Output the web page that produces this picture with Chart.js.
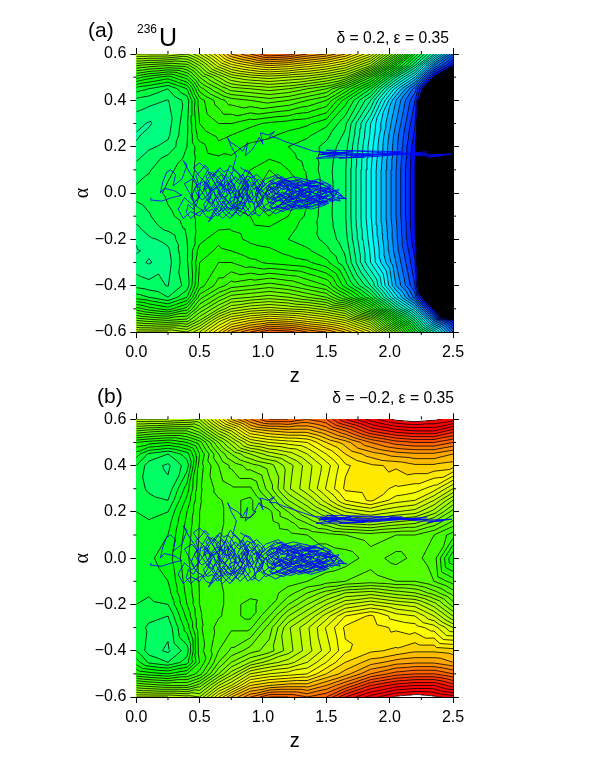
<!DOCTYPE html>
<html>
<head>
<meta charset="utf-8">
<title>Fission trajectories on potential energy surfaces</title>
<script src="https://cdn.jsdelivr.net/npm/chart.js@4/dist/chart.umd.js"></script>
<style>
  html, body { margin: 0; padding: 0; background: #fff; }
  canvas { display: block; }
</style>
</head>
<body>
<canvas id="panelA" width="599" height="388"></canvas>
<canvas id="panelB" width="599" height="365"></canvas>
<script>
// grid of the surfaces, the lower half is the mirror image of the upper half
const zGrid = [0, 0.1, 0.25, 0.4, 0.5, 0.65, 0.75, 0.9, 1.05, 1.2, 1.35, 1.5, 1.65, 1.85, 2.05, 2.2, 2.35, 2.5];
const alphaGrid = [0, 0.1, 0.15, 0.2, 0.25, 0.3, 0.4, 0.45, 0.5, 0.55, 0.6];

// panel (a), values in contour steps, one array per alpha row
const a00 = [-2.7, -2.5, -1.8, -1.3, -0.5, -0.2, -0.3, 0.5, 2.4, 1.2, -0.8, -2.5, -3.9, -8.9, -14, -18, -32, -40];
const a10 = [-3.5, -3.1, -2.2, -1.6, -0.6, -0.2, -0.2, 0, 1, 0, -1.2, -2.6, -3.9, -8.9, -14, -18, -32, -40];
const a15 = [-4.2, -3.5, -2.7, -1.8, -0.6, -0.2, -0.1, -0.3, -0.1, -0.7, -1.4, -2.5, -3.8, -8.7, -13.8, -17.9, -32, -40];
const a20 = [-4.9, -4.2, -3.7, -2, -0.4, 0.8, 0.3, -0.2, -0.5, -1, -1.5, -2.3, -3.6, -8.5, -13.7, -17.7, -31, -40];
const a25 = [-5.1, -4.8, -4.2, -2.1, 0.5, 1.2, 1, 0.4, 0.2, -0.3, -0.8, -1.7, -3.2, -8.2, -13.5, -17.3, -30, -40];
const a30 = [-4.7, -5.1, -4.4, -2.2, 1, 2, 2, 1.3, 0.8, 0.5, 0.2, -0.7, -2.8, -8, -13, -16.9, -30, -40];
const a40 = [-3.3, -3.6, -4.05, -2.6, 1.5, 3.5, 4.5, 5, 5.5, 5, 4, 3, -0.5, -5, -12, -16, -30, -38];
const a45 = [-1.5, -2, -3, -1, 3.5, 6, 7.5, 8, 8.5, 8, 7, 6, 3, -2, -9.5, -14.5, -24, -35];
const a50 = [2.5, 1.5, 0.5, 2.5, 6, 9, 11, 12, 12.5, 12, 11.5, 10.5, 9, 3, -5, -10, -18.5, -30];
const a55 = [7, 6.5, 6, 6.5, 9, 13.5, 15.5, 17, 18, 17.5, 16.5, 15.5, 14, 10, 1, -5, -13, -18];
const a60 = [12, 12, 12, 11, 13, 17, 20, 22, 24, 23.5, 22, 21, 19, 15, 7, -1, -7, -14];

// panel (b)
const b00 = [-1.2, -1.2, -0.5, 1.8, 3.2, 4, 4.4, 4.4, 4.3, 4.3, 4.2, 4.2, 4.4, 5.5, 4.6, 5.3, 4.5, 0];
const b10 = [-1.5, -1.6, -1, 1.5, 3.1, 3.9, 4.4, 4.4, 4.4, 4.6, 5, 5.5, 6, 6.5, 6, 6, 5, 3.5];
const b15 = [-1.7, -1.9, -1.4, 1.3, 3.05, 3.8, 4.3, 4.3, 4.5, 5.5, 7, 8.5, 10, 10.5, 9.5, 9, 7.5, 5.5];
const b20 = [-2, -2.2, -2, 1, 3, 3.8, 4.3, 3.7, 4.7, 7, 9, 11, 13, 14, 13, 12.5, 10.5, 7.5];
const b25 = [-2.2, -2.7, -3, 0.3, 2.9, 3.9, 4.3, 3.7, 6, 9, 11, 13.5, 16, 17.2, 15.5, 15, 13, 10];
const b30 = [-2.5, -3.2, -3.7, -0.5, 2.8, 4.4, 4.8, 4.8, 7.5, 10.8, 12.8, 15.1, 17.2, 17.5, 16.8, 16.5, 15.5, 13];
const b40 = [-2, -3.5, -4.2, -2.5, 2.5, 5, 6.2, 7.5, 8.5, 10.5, 12.5, 14.5, 16.8, 17.8, 18.2, 18.8, 18.8, 18.5];
const b45 = [-0.5, -2.2, -3, -1.5, 2, 6, 8, 10, 11.5, 12.5, 14, 16, 18, 19.5, 20.5, 20.8, 20.8, 20];
const b50 = [2, 1.5, 1, 2, 3.5, 8, 10.5, 14, 15, 15.5, 16, 18, 19.5, 22, 23.5, 24, 24, 23];
const b55 = [7, 6.5, 6, 6, 7.5, 12, 14, 18, 19, 19.5, 19.5, 21, 23, 26, 27.5, 28, 28, 26.5];
const b60 = [12, 12, 12, 11.5, 11, 16, 19, 22, 24, 24, 23, 24, 27, 29.5, 31.3, 31.8, 31.3, 30.5];

// trajectories as [z, alpha]
const tangleLeft = [
  [.12,-.02],[.11,-.03],[.2,-.035],[.28,-.02],[.36,-.01],[.3,.01],[.22,.02],[.19,0],[.21,.05],[.24,.09],[.27,.1],[.31,.08],[.29,.03],
  [.36,.06],[.4,.12],[.37,.14],[.42,.09],[.47,.05],[.5,-.02],[.44,-.05],[.38,-.02],[.33,-.07],[.37,-.11],[.43,-.08],[.5,-.1],[.56,-.05],
  [.6,0],[.55,.05],[.6,.09],[.66,.06],[.7,.01],[.65,-.04],[.6,-.09],[.57,-.125],[.63,-.09],[.7,-.06],[.75,-.02],[.72,.03],[.78,.07],
  [.84,.04],[.88,-.02],[.82,-.06],[.76,-.1],[.7,-.07],[.64,-.02],[.58,.03],[.5,.07],[.45,.11],[.5,.13],[.56,.1],[.62,.04],[.68,-.01],
  [.74,-.05],[.8,-.09],[.85,-.06],[.9,0],[.86,.05],[.8,.09],[.74,.12],[.7,.07],[.64,.1],[.58,.06],[.52,0],[.46,-.04],[.42,0],[.38,.04],
  [.44,.06],[.5,.02],[.56,-.03],[.62,-.07],[.68,-.11],[.74,-.08],[.8,-.03],[.85,.02],[.9,.07],[.95,.03],[1,-.03],[.94,-.07],[.88,-.1],
  [.84,-.06],[.78,-.01],[.72,.04],[.66,.01],[.6,-.05],[.54,-.08],[.48,-.06],[.43,-.02],[.47,.03],[.53,.05],[.59,.01],[.65,.03],[.71,.08],
  [.77,.03],[.83,-.02],[.89,.03],[.84,.08],[.79,.05],[.73,0],[.68,-.04],[.74,-.07],[.81,-.05],[.87,0],[.93,-.05],[.97,.01],[.91,.05]
];
const tangleMid = [
  [.62,.02],[.65,.035],[.63,.06],[.67,.08],[.7,.055],[.69,.02],[.73,.01],[.76,.04],[.74,.07],[.77,.1],[.81,.08],[.83,.05],[.8,.02],[.82,-.01],
  [.86,-.03],[.84,-.07],[.8,-.065],[.78,-.04],[.75,-.06],[.71,-.03],[.68,-.05],[.66,-.08],[.62,-.06],[.6,-.03],[.57,-.01],[.6,.03],[.64,.05],
  [.68,.03],[.71,.05],[.75,.03],[.79,.01],[.77,-.03],[.73,-.045],[.7,-.02],[.66,-.01],[.63,-.03],[.66,-.06],[.7,-.09],[.74,-.11],[.78,-.08],
  [.82,-.1],[.86,-.08],[.9,-.06],[.88,-.03],[.92,-.01],[.9,.02],[.94,.05],[.9,.09],[.86,.1],[.83,.07],[.87,.03],[.84,.005],[.8,-.02],[.76,0],
  [.78,.03],[.74,.055],[.7,.03],[.72,-.01],[.68,-.025],[.64,.005],[.67,.04],[.62,.07],[.58,.09],[.55,.07],[.58,.04],[.54,.02],[.57,-.02],
  [.53,-.05],[.56,-.08],[.6,-.07],[.64,-.1],[.68,-.08],[.72,-.06],[.76,-.075],[.8,-.05],[.84,-.03],[.81,.01],[.85,.035],[.88,.06],[.92,.03],
  [.96,.06],[1,.04],[.97,0],[1,-.02],[.96,-.05],[.92,-.08],[.97,-.1],[1.02,-.07],[.98,-.03],[.94,0],[.98,.03],[.93,.07],[.88,.09],[.82,.11]
];
const tangleFine = [
  [.52,.03],[.545,.045],[.53,.01],[.57,.025],[.59,-.005],[.565,-.035],[.6,-.045],[.625,-.02],[.61,.015],[.645,.02],[.66,-.01],[.685,.01],[.67,.045],
  [.705,.07],[.73,.04],[.715,.015],[.745,-.005],[.77,.015],[.79,-.005],[.765,-.045],[.79,-.075],[.825,-.045],[.845,-.015],[.83,.025],[.86,.015],
  [.885,.04],[.87,-.02],[.9,-.04],[.925,-.02],[.91,.01],[.945,.025],[.96,-.01],[.94,-.03],[.97,-.06],[.995,-.04],[1.01,-.005],[.985,.02],[1.02,.035],
  [.99,.06],[.95,.08],[.91,.065],[.875,.075],[.85,.055],[.81,.04],[.775,.06],[.75,.085],[.72,.1],[.69,.09],[.66,.11],[.63,.085],[.6,.06],[.63,.035],
  [.59,.015],[.555,-.015],[.52,-.03],[.49,-.015],[.46,.015],[.49,.04],[.47,.075],[.51,.095],[.54,.12],[.57,.105],[.54,.075],[.51,.05],[.48,-.045],
  [.45,-.07],[.41,-.05],[.395,-.085],[.43,-.11],[.47,-.09],[.52,-.075],[.55,-.1],[.59,-.11],[.62,-.08],[.655,-.055],[.69,-.035],[.725,-.075],[.76,-.055],
  [.735,-.025],[.775,-.015],[.81,-.035],[.85,-.045],[.88,-.07],[.91,-.095],[.945,-.085],[.93,-.05],[.895,-.02],[.865,.01],[.9,.035],[.935,.015],[.97,.035]
];
const tangleRight = [
  [.9,-.04],[1,.03],[1.1,.07],[1.2,.05],[1.3,.03],[1.42,.05],[1.5,.03],[1.56,.01],[1.5,-.02],[1.38,-.04],[1.26,-.02],[1.14,-.05],[1.02,-.08],
  [.96,-.04],[1.04,.01],[1.16,.04],[1.28,.06],[1.4,.03],[1.52,.02],[1.6,0],[1.64,-.02],[1.52,-.035],[1.4,-.055],[1.28,-.07],[1.18,-.045],
  [1.06,-.02],[.96,.02],[1.02,.06],[1.12,.08],[1.22,.03],[1.34,.01],[1.46,-.01],[1.54,.03],[1.44,.06],[1.32,.04],[1.2,.01],[1.08,-.03],
  [1,-.06],[1.1,-.09],[1.2,-.06],[1.32,-.03],[1.44,-.02],[1.56,-.01],[1.46,.02],[1.34,0],[1.22,-.03],[1.12,-.01],[1.02,.02],[1.08,.05],
  [1.18,.02],[1.3,-.01],[1.42,-.03],[1.5,-.05],[1.38,-.07],[1.26,-.05],[1.16,-.08],[1.06,-.06],[1.12,-.03],[1.24,0],[1.36,.02],[1.48,.04],
  [1.36,.055],[1.24,.07],[1.14,.055],[1.04,.03],[1.1,0],[1.2,-.02],[1.3,-.04],[1.42,-.01],[1.54,-.03],[1.6,.015],[1.48,0],[1.36,-.02],
  [1.26,.01],[1.16,-.01],[1.08,.02],[1.18,.06],[1.28,.02],[1.4,-.04],[1.3,-.06],[1.2,-.04],[1.1,-.06],[1.22,-.075],[1.34,-.05],[1.46,-.035],
  [1.58,-.02],[1.66,-.025],[1.54,.005],[1.42,.015],[1.3,.045],[1.18,.03],[1.06,.045],[.98,0],[1.06,-.045],[1.16,-.025],[1.28,-.01],[1.38,.035]
];
const tangleCore = [
  [1.1,.01],[1.14,.03],[1.12,.05],[1.17,.045],[1.2,.025],[1.18,0],[1.22,-.015],[1.26,.005],[1.24,.03],[1.29,.035],[1.32,.015],[1.3,-.01],
  [1.35,-.025],[1.38,-.005],[1.36,.025],[1.41,.035],[1.44,.015],[1.42,-.015],[1.47,-.025],[1.5,-.005],[1.48,.02],[1.53,.015],[1.55,-.015],
  [1.5,-.035],[1.45,-.04],[1.4,-.03],[1.37,-.05],[1.32,-.05],[1.3,-.03],[1.25,-.035],[1.22,-.055],[1.17,-.05],[1.15,-.03],[1.1,-.035],
  [1.08,-.01],[1.05,.015],[1.09,.03],[1.06,.05],[1.1,.06],[1.15,.07],[1.19,.055],[1.24,.05],[1.28,.045],[1.33,.05],[1.37,.04],[1.4,.05],
  [1.45,.04],[1.49,.045],[1.53,.035],[1.5,.01],[1.46,.005],[1.41,-.005],[1.37,.01],[1.33,0],[1.28,-.015],[1.24,-.025],[1.2,-.01],[1.15,.005],
  [1.12,-.015],[1.16,-.035],[1.2,-.03],[1.25,-.015],[1.29,.005],[1.34,.02],[1.39,.015],[1.43,.025],[1.47,.01],[1.52,-.01],[1.47,-.015],
  [1.43,-.03],[1.38,-.04],[1.33,-.035],[1.28,-.03],[1.23,-.045],[1.18,-.06],[1.13,-.065],[1.09,-.045],[1.04,-.04],[1.03,-.01],[1.07,.005],
  [1.12,.025],[1.17,.015],[1.22,.035],[1.27,.02],[1.31,.03],[1.35,.035],[1.39,.03],[1.44,.035],[1.4,.005],[1.35,-.01],[1.31,-.02],[1.26,-.04],
  [1.21,-.035],[1.16,-.015],[1.11,0],[1.15,.02],[1.2,.04],[1.25,.04],[1.3,.015],[1.35,.005],[1.4,-.015],[1.45,-.01],[1.49,-.02],[1.44,-.045],
  [1.39,-.06],[1.34,-.06],[1.29,-.05],[1.24,-.06],[1.19,-.07],[1.14,-.045],[1.19,-.025],[1.23,-.005],[1.28,.01],[1.33,.03],[1.38,.045],[1.34,.06]
];
const tangleCore2 = [
  [1.02,.005],[1.045,-.02],[1.075,-.03],[1.095,-.005],[1.125,.005],[1.105,.04],[1.135,.045],[1.16,.025],[1.19,.035],[1.21,.01],[1.235,.015],[1.22,-.025],
  [1.255,-.025],[1.275,-.005],[1.3,.005],[1.325,-.015],[1.345,.01],[1.37,.02],[1.395,0],[1.415,.015],[1.44,0],[1.46,.025],[1.485,.01],[1.51,.025],
  [1.535,0],[1.56,-.02],[1.58,0],[1.555,.02],[1.525,.03],[1.495,.03],[1.465,.04],[1.43,.045],[1.395,.04],[1.36,.045],[1.325,.035],[1.3,.05],
  [1.265,.055],[1.235,.04],[1.205,.05],[1.175,.055],[1.15,.04],[1.12,.04],[1.09,.015],[1.06,.03],[1.03,.015],[1.055,-.01],[1.085,-.02],[1.11,-.025],
  [1.14,-.01],[1.17,-.02],[1.195,-.04],[1.225,-.035],[1.255,-.045],[1.285,-.04],[1.31,-.045],[1.345,-.04],[1.37,-.03],[1.405,-.04],[1.43,-.02],[1.46,-.03],
  [1.49,-.04],[1.515,-.025],[1.54,-.04],[1.57,-.03],[1.61,-.035],[1.59,-.015],[1.62,-.01],[1.575,.01],[1.54,.005],[1.505,.005],[1.475,-.005],[1.445,-.015],
  [1.41,-.025],[1.38,-.015],[1.345,-.01],[1.32,.005],[1.285,.015],[1.26,.025],[1.225,.025],[1.195,.015],[1.165,-.005],[1.135,-.02],[1.105,-.015],[1.08,-.045],
  [1.05,-.055],[1.075,-.07],[1.105,-.06],[1.135,-.055],[1.16,-.07],[1.2,-.05],[1.235,-.065],[1.27,-.055],[1.3,-.065],[1.33,-.045],[1.36,-.06],[1.39,-.045],
  [1.42,-.05],[1.45,-.055],[1.475,-.035],[1.52,-.045],[1.47,-.05],[1.43,-.04],[1.395,-.025],[1.36,-.035],[1.33,-.02],[1.3,-.015],[1.27,-.025],[1.24,-.01],
  [1.21,.005],[1.18,.02],[1.15,.015],[1.125,.03],[1.155,.055],[1.185,.04],[1.215,.03],[1.245,.01],[1.275,.03],[1.31,.04],[1.34,.03],[1.375,.03],[1.41,.025]
];
const branchUp = [
  [.76,.1],[.79,.16],[.75,.2],[.72,.24],[.74,.22],[.8,.2],[.84,.18],[.88,.22],[.86,.16],[.92,.19],[.97,.24],[1,.21],[.98,.26],[1.04,.25],
  [1.09,.265],[1.05,.24],[1.1,.24],[1.16,.225],[1.24,.21],[1.32,.195],[1.4,.18]
];
const branchTube = [
  [1.4,.18],[1.62,.172],[1.44,.165],[1.7,.178],[1.46,.17],[1.85,.165],[1.5,.158],[1.62,.168],[1.45,.175],[1.95,.168],[1.78,.16],[2.22,.172],
  [1.95,.165],[2.3,.168],[2,.175],[2.25,.16],[2.42,.162],[2.3,.155],[2.49,.168],[2.32,.165],[2.05,.17],[1.72,.182],[1.42,.15],[1.8,.155],
  [1.5,.185],[2.1,.178],[1.6,.15],[1.9,.158],[2.3,.178]
];

// contour steps
const levelMin = -18;
const levelMax = 31;

// stepped colours: black below the lowest level, white above the highest
function levelColor(v) {
  if (v < levelMin) return [0, 0, 0];
  if (v >= levelMax) return [255, 255, 255];
  const t = Math.floor(v) + 0.5;
  if (t < -9) return [0, Math.round(255 * (t + 18) / 9), 255];
  if (t < 0) return [0, 255, Math.round(255 * -t / 9)];
  if (t < 16.5) return [Math.round(255 * t / 16.5), 255, 0];
  if (t < 28) return [255, Math.round(255 * (28 - t) / 11.5), 0];
  return [255, 0, 0];
}

// build the whole surface by mirroring the rows in alpha
function mirrorRows(rows) {
  const lower = rows.slice(1).reverse();
  return lower.concat(rows);
}
const alphaAll = alphaGrid.slice(1).reverse().map(function (a) { return -a; }).concat(alphaGrid);

function cellIndex(list, v) {
  let i = 0;
  while (i < list.length - 2 && v > list[i + 1]) i++;
  return i;
}

// linear on the two triangles of a grid cell
function surfaceAt(field, z, alpha) {
  const i = cellIndex(zGrid, z);
  const j = cellIndex(alphaAll, alpha);
  const tx = (z - zGrid[i]) / (zGrid[i + 1] - zGrid[i]);
  const ty = (alpha - alphaAll[j]) / (alphaAll[j + 1] - alphaAll[j]);
  const v00 = field[j][i], v10 = field[j][i + 1], v01 = field[j + 1][i], v11 = field[j + 1][i + 1];
  if (tx > ty) return v00 + tx * (v10 - v00) + ty * (v11 - v10);
  return v00 + ty * (v01 - v00) + tx * (v11 - v01);
}

function triangleSegment(p, q, r, level, out) {
  const hits = [];
  [[p, q], [q, r], [r, p]].forEach(function (e) {
    const a = e[0], b = e[1];
    if ((a.v < level) !== (b.v < level)) {
      const t = (level - a.v) / (b.v - a.v);
      hits.push({ x: a.x + t * (b.x - a.x), y: a.y + t * (b.y - a.y) });
    }
  });
  if (hits.length === 2) out.push(hits[0], hits[1], { x: NaN, y: NaN });
}

// contour lines of the surface, as one dataset with gaps
function contourPoints(field) {
  const out = [];
  for (let level = levelMin; level <= levelMax; level++) {
    for (let j = 0; j < alphaAll.length - 1; j++) {
      for (let i = 0; i < zGrid.length - 1; i++) {
        const p00 = { x: zGrid[i], y: alphaAll[j], v: field[j][i] };
        const p10 = { x: zGrid[i + 1], y: alphaAll[j], v: field[j][i + 1] };
        const p01 = { x: zGrid[i], y: alphaAll[j + 1], v: field[j + 1][i] };
        const p11 = { x: zGrid[i + 1], y: alphaAll[j + 1], v: field[j + 1][i + 1] };
        triangleSegment(p00, p10, p11, level, out);
        triangleSegment(p00, p11, p01, level, out);
      }
    }
  }
  return out;
}

function toPoints(track) {
  return track.map(function (p) { return { x: p[0], y: p[1] }; });
}

function trackDataset(track) {
  return {
    type: 'scatter',
    data: toPoints(track),
    showLine: true,
    borderColor: 'rgb(0, 10, 245)',
    borderWidth: 0.9,
    pointRadius: 0,
    tension: 0
  };
}

// fills the plot area pixel by pixel through the scales
const surfacePlugin = {
  id: 'surface',
  beforeDatasetsDraw(chart, args, opts) {
    const area = chart.chartArea;
    const w = Math.round(area.right - area.left);
    const h = Math.round(area.bottom - area.top);
    const off = document.createElement('canvas');
    off.width = w;
    off.height = h;
    const offCtx = off.getContext('2d');
    const img = offCtx.createImageData(w, h);
    for (let py = 0; py < h; py++) {
      const alpha = chart.scales.y.getValueForPixel(area.top + py + 0.5);
      for (let px = 0; px < w; px++) {
        const z = chart.scales.x.getValueForPixel(area.left + px + 0.5);
        const c = levelColor(surfaceAt(opts.field, z, alpha));
        const k = (py * w + px) * 4;
        img.data[k] = c[0];
        img.data[k + 1] = c[1];
        img.data[k + 2] = c[2];
        img.data[k + 3] = 255;
      }
    }
    offCtx.putImageData(img, 0, 0);
    chart.ctx.drawImage(off, area.left, area.top);
  }
};

// short ticks, the long ones come from the axes
const minorTickPlugin = {
  id: 'minorTicks',
  afterDraw(chart) {
    const ctx = chart.ctx;
    const area = chart.chartArea;
    ctx.save();
    ctx.strokeStyle = '#000';
    ctx.lineWidth = 1;
    ctx.beginPath();
    chart.scales.x.ticks.forEach(function (t) {
      if (isLongX(t.value)) return;
      const px = chart.scales.x.getPixelForValue(t.value);
      ctx.moveTo(px, area.bottom);
      ctx.lineTo(px, area.bottom + 3);
      ctx.moveTo(px, area.top);
      ctx.lineTo(px, area.top - 3);
    });
    chart.scales.y.ticks.forEach(function (t) {
      if (isLongY(t.value)) return;
      const py = chart.scales.y.getPixelForValue(t.value);
      ctx.moveTo(area.left, py);
      ctx.lineTo(area.left - 3, py);
      ctx.moveTo(area.right, py);
      ctx.lineTo(area.right + 3, py);
    });
    ctx.stroke();
    ctx.restore();
  }
};

const textPlugin = {
  id: 'panelText',
  afterDraw(chart, args, opts) {
    const ctx = chart.ctx;
    ctx.save();
    ctx.fillStyle = '#000';
    ctx.textBaseline = 'alphabetic';
    opts.items.forEach(function (item) {
      ctx.font = item.font;
      ctx.textAlign = item.align || 'left';
      ctx.fillText(item.text, item.x, item.y);
    });
    ctx.restore();
  }
};

function isLongX(v) { return Math.abs(v * 2 - Math.round(v * 2)) < 1e-6; }
function isLongY(v) { return Math.round(v * 10) % 2 === 0; }

function formatAlpha(v) {
  const s = Math.abs(v).toFixed(1);
  return v < -1e-6 ? '\u2212' + s : s;
}

function axisFrame() {
  return { display: true, color: '#000', width: 1 };
}

function makePanel(id, rows, topHeight, bottomHeight, items) {
  const field = mirrorRows(rows);
  const xGrid = {
    drawOnChartArea: false, tickLength: 6, tickWidth: 1,
    tickColor: function (c) { return isLongX(c.tick.value) ? '#000' : 'rgba(0,0,0,0)'; }
  };
  const yGrid = {
    drawOnChartArea: false, tickLength: 6, tickWidth: 1,
    tickColor: function (c) { return isLongY(c.tick.value) ? '#000' : 'rgba(0,0,0,0)'; }
  };
  return new Chart(document.getElementById(id), {
    type: 'scatter',
    data: {
      datasets: [
        trackDataset(tangleCore2),
        trackDataset(tangleCore),
        trackDataset(tangleRight),
        trackDataset(tangleFine),
        trackDataset(tangleMid),
        trackDataset(tangleLeft),
        trackDataset(branchUp),
        trackDataset(branchTube),
        {
          type: 'scatter',
          data: contourPoints(field),
          showLine: true,
          spanGaps: false,
          borderColor: '#000',
          borderWidth: 0.8,
          pointRadius: 0
        }
      ]
    },
    options: {
      responsive: false,
      animation: false,
      layout: { padding: 0 },
      plugins: {
        legend: { display: false },
        tooltip: { enabled: false },
        surface: { field: field },
        panelText: { items: items }
      },
      scales: {
        x: {
          type: 'linear', position: 'bottom', min: 0, max: 2.5,
          afterFit: function (s) { s.height = bottomHeight; },
          grid: xGrid, border: axisFrame(),
          title: { display: true, text: 'z', color: '#000', font: { family: 'Liberation Sans', size: 20 }, padding: 0 },
          ticks: {
            stepSize: 0.25, autoSkip: false, maxRotation: 0, color: '#000', padding: 5,
            font: { family: 'Liberation Sans', size: 16 },
            callback: function (v) { return isLongX(v) ? v.toFixed(1) : ''; }
          }
        },
        x2: {
          type: 'linear', position: 'top', min: 0, max: 2.5,
          afterFit: function (s) { s.height = topHeight; },
          grid: xGrid, border: axisFrame(),
          ticks: { stepSize: 0.25, autoSkip: false, maxRotation: 0, callback: function () { return ''; } }
        },
        y: {
          type: 'linear', position: 'left', min: -0.6, max: 0.6,
          afterFit: function (s) { s.width = 136.3; },
          grid: yGrid, border: axisFrame(),
          title: { display: true, text: '\u03b1', color: '#000', font: { family: 'Liberation Serif', size: 20 }, padding: { top: 71, bottom: 0 } },
          ticks: {
            stepSize: 0.1, autoSkip: false, color: '#000', padding: 4,
            font: { family: 'Liberation Sans', size: 16 },
            callback: function (v) { return isLongY(v) ? formatAlpha(v) : ''; }
          }
        },
        y2: {
          type: 'linear', position: 'right', min: -0.6, max: 0.6,
          afterFit: function (s) { s.width = 146; },
          grid: yGrid, border: axisFrame(),
          ticks: { stepSize: 0.1, autoSkip: false, callback: function () { return ''; } }
        }
      }
    },
    plugins: [surfacePlugin, minorTickPlugin, textPlugin]
  });
}

makePanel('panelA', [a00, a10, a15, a20, a25, a30, a40, a45, a50, a55, a60], 54, 56, [
  { text: '(a)', x: 88, y: 37, font: '21px "Liberation Sans"' },
  { text: '236', x: 137, y: 33, font: '12px "Liberation Sans"' },
  { text: 'U', x: 159, y: 46, font: '25px "Liberation Sans"' },
  { text: '\u03b4 = 0.2, \u03b5 = 0.35', x: 449, y: 43, align: 'right', font: '15.7px "Liberation Sans"' }
]);
makePanel('panelB', [b00, b10, b15, b20, b25, b30, b40, b45, b50, b55, b60], 31.3, 56, [
  { text: '(b)', x: 97, y: 15, font: '21px "Liberation Sans"' },
  { text: '\u03b4 = \u22120.2, \u03b5 = 0.35', x: 454, y: 15, align: 'right', font: '15.7px "Liberation Sans"' }
]);
</script>
</body>
</html>
